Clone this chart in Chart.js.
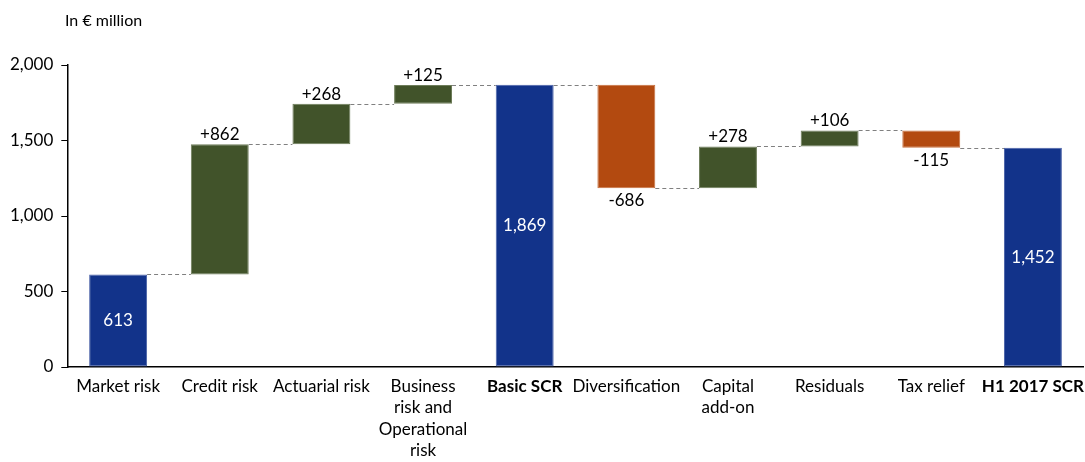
<!DOCTYPE html>
<html>
<head>
<meta charset="utf-8">
<script src="https://cdn.jsdelivr.net/npm/chart.js@4/dist/chart.umd.min.js"></script>
<style>
  html, body { margin: 0; padding: 0; background: #fff; }
  #wrap { width: 1085px; height: 462px; position: relative; }
</style>
</head>
<body>
<div id="wrap"><canvas id="chart"></canvas></div>
<script>
// categories and values (in € million)
const categories = [
  'Market risk', 'Credit risk', 'Actuarial risk',
  ['Business', 'risk and', 'Operational', 'risk'],
  'Basic SCR', 'Diversification', ['Capital', 'add-on'],
  'Residuals', 'Tax relief', 'H1 2017 SCR'
];
const values = [613, 862, 268, 125, 1869, -686, 278, 106, -115, 1452];
const isTotal = [false, false, false, false, true, false, false, false, false, true];
const yTicks = [0, 500, 1000, 1500, 2000];

const BLUE = '#12338a', GREEN = '#41532a', ORANGE = '#b34a10';
const FONT = 'Lato, "Open Sans", sans-serif';

// build floating ranges from the deltas; the first bar starts at zero
let running = 0;
const ranges = values.map((v, i) => {
  if (isTotal[i] || i === 0) { running = v; return [0, v]; }
  const r = [running, running + v];
  running += v;
  return r;
});
const colors = values.map((v, i) => isTotal[i] || i === 0 ? BLUE : (v < 0 ? ORANGE : GREEN));
const borders = values.map((v, i) => isTotal[i] || i === 0 ? '#4a62a8' : (v < 0 ? '#c8703e' : '#6e7d5a'));

const fmt = n => n.toLocaleString('en-US');

const waterfallExtras = {
  id: 'waterfallExtras',
  afterDatasetsDraw(chart) {
    const { ctx } = chart;
    const meta = chart.getDatasetMeta(0);
    const y = chart.scales.y;
    ctx.save();
    // dashed connectors
    ctx.strokeStyle = '#808080';
    ctx.lineWidth = 1;
    ctx.setLineDash([4, 3]);
    for (let i = 0; i < meta.data.length - 1; i++) {
      const a = meta.data[i], b = meta.data[i + 1];
      const level = ranges[i][1];
      const py = Math.round(y.getPixelForValue(level)) + 0.5;
      ctx.beginPath();
      ctx.moveTo(a.x + a.width / 2, py);
      ctx.lineTo(b.x - b.width / 2, py);
      ctx.stroke();
    }
    ctx.setLineDash([]);
    // value labels
    ctx.font = '17px ' + FONT;
    ctx.textAlign = 'center';
    meta.data.forEach((bar, i) => {
      const v = values[i];
      const [lo, hi] = ranges[i];
      if (isTotal[i] || i === 0) {
        ctx.fillStyle = '#fff';
        ctx.textBaseline = 'middle';
        ctx.fillText(fmt(v), bar.x, y.getPixelForValue((lo + hi) / 2));
      } else if (v > 0) {
        ctx.fillStyle = '#000';
        ctx.textBaseline = 'bottom';
        ctx.fillText('+' + fmt(v), bar.x, y.getPixelForValue(hi) - 1);
      } else {
        ctx.fillStyle = '#000';
        ctx.textBaseline = 'top';
        ctx.fillText(fmt(v), bar.x, y.getPixelForValue(hi) + 4);
      }
    });
    // unit caption
    ctx.font = '16px ' + FONT;
    ctx.textAlign = 'left';
    ctx.textBaseline = 'middle';
    ctx.fillStyle = '#000';
    ctx.fillText('In € million', 65, 21);
    ctx.restore();
  }
};

new Chart(document.getElementById('chart'), {
  type: 'bar',
  data: {
    labels: categories,
    datasets: [{
      data: ranges,
      backgroundColor: colors,
      borderColor: borders,
      borderWidth: 1,
      borderSkipped: false,
      categoryPercentage: 1,
      barPercentage: 0.57
    }]
  },
  options: {
    responsive: true,
    maintainAspectRatio: false,
    animation: false,
    layout: { padding: { top: 65, right: 0, left: 2, bottom: 0 } },
    plugins: { legend: { display: false }, tooltip: { enabled: false } },
    scales: {
      x: {
        grid: { display: false },
        border: { display: true, color: '#000', width: 1.5 },
        ticks: {
          color: '#000',
          padding: 1,
          maxRotation: 0,
          autoSkip: false,
          font: c => ({
            family: FONT,
            size: 17,
            lineHeight: 1.25,
            weight: isTotal[c.index] ? 'bold' : 'normal'
          })
        }
      },
      y: {
        min: 0,
        max: 2000,
        afterBuildTicks: s => { s.ticks = yTicks.map(v => ({ value: v })); },
        grid: { drawOnChartArea: false, drawTicks: true, tickLength: 6, color: '#000' },
        border: { display: true, color: '#000', width: 1.5 },
        ticks: {
          color: '#000',
          padding: 8,
          font: { family: FONT, size: 17 },
          callback: v => fmt(v)
        }
      }
    }
  },
  plugins: [waterfallExtras]
});
</script>
</body>
</html>
